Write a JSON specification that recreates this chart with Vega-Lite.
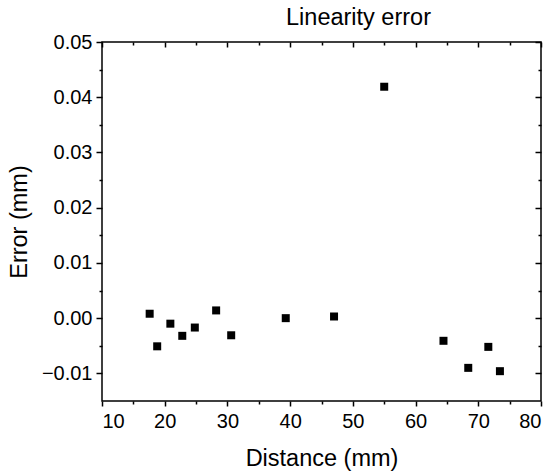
{
  "$schema": "https://vega.github.io/schema/vega-lite/v6.json",
  "autosize": {"type": "none"},
  "padding": {"left": 102, "top": 42, "right": 13, "bottom": 73},
  "width": 439,
  "height": 359,
  "background": "white",
  "config": {
    "font": "Liberation Sans",
    "view": {"stroke": "black", "strokeWidth": 1.5},
    "axis": {"grid": false, "domain": false, "tickColor": "black", "tickWidth": 1.5, "labelColor": "black", "titleColor": "black", "labelFont": "Liberation Sans", "titleFont": "Liberation Sans", "labelFontSize": 20, "titleFontSize": 23.5, "titleFontWeight": "normal"}
  },
  "title": {"text": "Linearity error", "fontSize": 23.5, "fontWeight": "normal", "font": "Liberation Sans", "color": "black", "anchor": "middle", "dx": 37, "offset": 3},
  "data": {"values": [
    {"distance": 17.6, "error": 0.0008},
    {"distance": 18.8, "error": -0.0051},
    {"distance": 20.9, "error": -0.001},
    {"distance": 22.8, "error": -0.0032},
    {"distance": 24.8, "error": -0.0017},
    {"distance": 28.2, "error": 0.0014},
    {"distance": 30.6, "error": -0.0031},
    {"distance": 39.3, "error": 0.0},
    {"distance": 47.0, "error": 0.0003},
    {"distance": 55.0, "error": 0.0419},
    {"distance": 64.45, "error": -0.0041},
    {"distance": 68.4, "error": -0.009},
    {"distance": 71.6, "error": -0.0052},
    {"distance": 73.45, "error": -0.0096}
  ]},
  "resolve": {"axis": {"x": "independent", "y": "independent"}},
  "layer": [
    {
      "mark": {"type": "square", "size": 64, "color": "black", "opacity": 1},
      "encoding": {
        "x": {"field": "distance", "type": "quantitative", "scale": {"domain": [10, 80], "nice": false, "zero": false},
          "axis": {"orient": "bottom", "values": [10, 20, 30, 40, 50, 60, 70, 80], "tickSize": 5, "labelPadding": 5, "title": "Distance (mm)", "titlePadding": 15}},
        "y": {"field": "error", "type": "quantitative", "scale": {"domain": [-0.015, 0.05], "nice": false, "zero": false},
          "axis": {"orient": "left", "values": [-0.01, 0, 0.01, 0.02, 0.03, 0.04, 0.05], "format": ".2f", "tickSize": 6, "labelPadding": 4, "title": "Error (mm)", "titlePadding": 10}}
      }
    },
    {
      "mark": {"type": "square", "size": 64, "opacity": 0},
      "encoding": {
        "x": {"field": "distance", "type": "quantitative",
          "axis": {"orient": "bottom", "values": [15, 25, 35, 45, 55, 65, 75], "tickSize": 3, "labels": false, "title": null}},
        "y": {"field": "error", "type": "quantitative",
          "axis": {"orient": "left", "values": [-0.005, 0.005, 0.015, 0.025, 0.035, 0.045], "tickSize": 3, "labels": false, "title": null}}
      }
    },
    {
      "mark": {"type": "square", "size": 64, "opacity": 0},
      "encoding": {
        "x": {"field": "distance", "type": "quantitative",
          "axis": {"orient": "top", "values": [10, 20, 30, 40, 50, 60, 70, 80], "tickSize": -5, "labels": false, "title": null}},
        "y": {"field": "error", "type": "quantitative",
          "axis": {"orient": "right", "values": [-0.01, 0, 0.01, 0.02, 0.03, 0.04, 0.05], "tickSize": -6, "labels": false, "title": null}}
      }
    },
    {
      "mark": {"type": "square", "size": 64, "opacity": 0},
      "encoding": {
        "x": {"field": "distance", "type": "quantitative",
          "axis": {"orient": "top", "values": [15, 25, 35, 45, 55, 65, 75], "tickSize": -3, "labels": false, "title": null}},
        "y": {"field": "error", "type": "quantitative",
          "axis": {"orient": "right", "values": [-0.005, 0.005, 0.015, 0.025, 0.035, 0.045], "tickSize": -3, "labels": false, "title": null}}
      }
    }
  ]
}
